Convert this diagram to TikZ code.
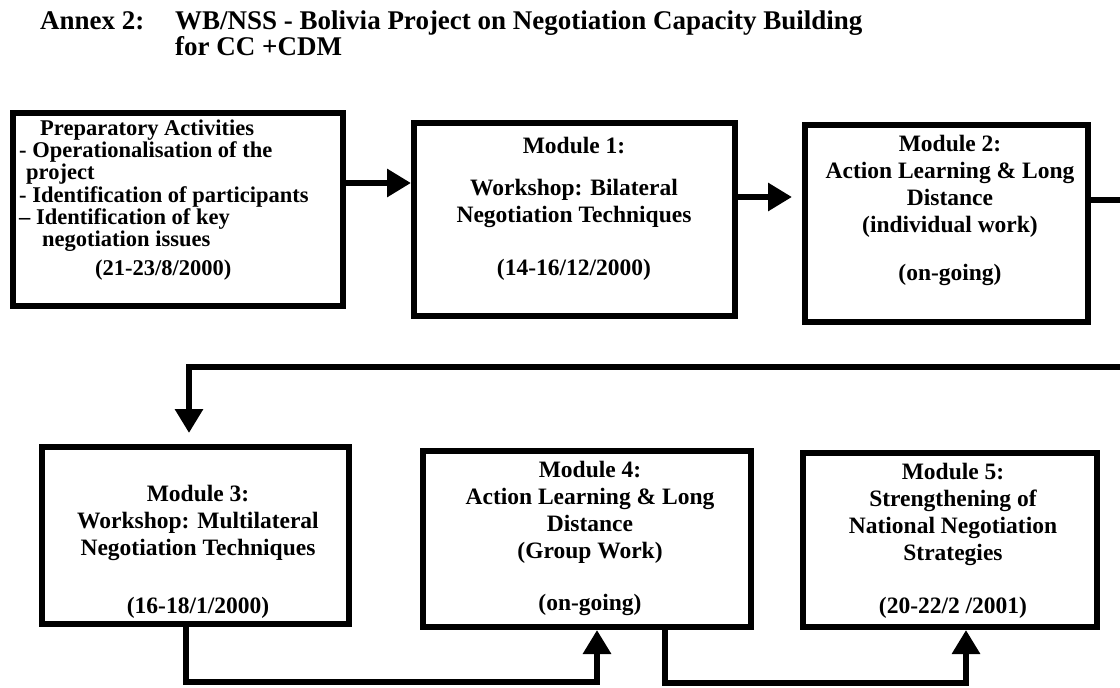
\documentclass[tikz,border=0pt]{standalone}
\usepackage{fontspec}
\setmainfont{Liberation Serif}
\usetikzlibrary{arrows.meta}
\tikzset{
  box/.style={draw=black, line width=6pt, fill=white, inner sep=0pt, rectangle},
  conn/.style={draw=black, line width=6.5pt, line join=miter},
  tip/.style={-{Triangle[length=24pt,width=27pt]}},
  txt/.style={inner sep=0pt, anchor=base, align=center, font=\bfseries\fontsize{23.5}{27}\selectfont},
  prep/.style={inner sep=0pt, anchor=base west, align=left, font=\bfseries\fontsize{22.5}{22.3}\selectfont},
  ttl/.style={inner sep=0pt, anchor=base west, align=left, font=\bfseries\fontsize{27}{26}\selectfont}
}
\begin{document}
\begin{tikzpicture}[x=1pt,y=-1pt]
\useasboundingbox (0,0) rectangle (1120,688);
\fill[white] (0,0) rectangle (1120,688);
\clip (0,0) rectangle (1120,688);
% title (base anchor = baseline of last line)
\node[ttl] (annex) at (40,29) {Annex 2:};
\node[ttl] (title) at (175,55) {WB/NSS - Bolivia Project on Negotiation Capacity Building\\for CC +CDM};
% boxes
\node[box, minimum width=330pt, minimum height=193pt] (b1) at (178,209.5) {};
\node[box, minimum width=321pt, minimum height=193pt] (b2) at (574.5,219.5) {};
\node[box, minimum width=283pt, minimum height=197pt] (b3) at (946.5,223.5) {};
\node[box, minimum width=307pt, minimum height=177pt] (b4) at (195.5,535.5) {};
\node[box, minimum width=328pt, minimum height=176pt] (b5) at (587,539) {};
\node[box, minimum width=294pt, minimum height=174pt] (b6) at (950,540) {};
% texts
\node[prep] (t1) at (19,275) {\hspace*{21pt}Preparatory Activities\\
- Operationalisation of the\\
\hspace*{7pt}project\\
- Identification of participants\\
-- Identification of key\\
\hspace*{23pt}negotiation issues\\[6pt]
\hspace*{76pt}(21-23/8/2000)};
\node[txt] (t2) at (574,275) {Module 1:\\[15pt]Workshop: Bilateral\\Negotiation Techniques\\[26pt](14-16/12/2000)};
\node[txt] (t3) at (950,280) {Module 2:\\Action Learning \& Long\\Distance\\(individual work)\\[21pt](on-going)};
\node[txt] (t4) at (198,613) {Module 3:\\Workshop: Multilateral\\Negotiation Techniques\\[31pt](16-18/1/2000)};
\node[txt] (t5) at (590,610) {Module 4:\\Action Learning \& Long\\Distance\\(Group Work)\\[25pt](on-going)};
\node[txt] (t6) at (953,613) {Module 5:\\Strengthening of\\National Negotiation\\Strategies\\[26pt](20-22/2 /2001)};
% connector helper coordinates
\coordinate (y1) at (0,183);
\coordinate (y2) at (0,197);
\coordinate (r1) at (1140,200);
\coordinate (r2) at (1140,367);
\coordinate (l1) at (189,367);
\coordinate (d1) at (186,682);
\coordinate (d2) at (597,682);
\coordinate (e1) at (665,683);
\coordinate (e2) at (966,683);
% connectors
\draw[conn, tip] (b1.east |- y1) -- (b2.west |- y1);
\draw[conn, tip, shorten >=10pt] (b2.east |- y2) -- (b3.west |- y2);
\draw[conn, tip, shorten >=11pt] (b3.east |- r1) -- (r1) -- (r2) -- (l1) -- (b4.north -| l1);
\draw[conn, tip] (b4.south -| d1) -- (d1) -- (d2) -- (b5.south -| d2);
\draw[conn, tip] (b5.south -| e1) -- (e1) -- (e2) -- (b6.south -| e2);
\end{tikzpicture}
\end{document}
